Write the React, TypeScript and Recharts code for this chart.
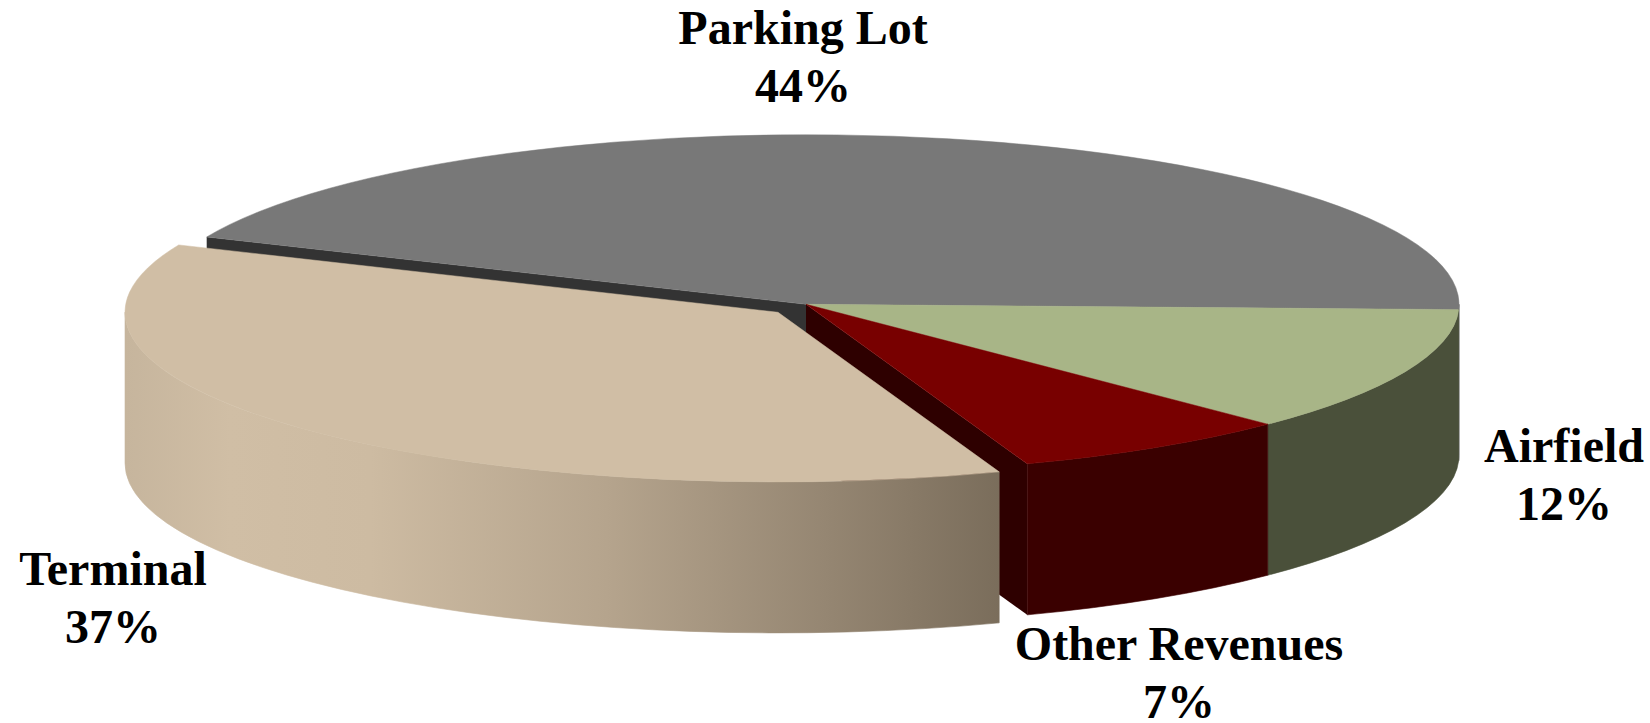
import { PieChart, Pie, Cell } from 'recharts'

const CATEGORIES = ['Parking Lot', 'Airfield', 'Other Revenues', 'Terminal']
const VALUES = [44, 12, 7, 37]

const TOP_COLORS: Record<string, string> = {
  'Parking Lot': '#787878',
  Airfield: '#a8b587',
  'Other Revenues': '#780000',
  Terminal: '#d0bea5',
}
const WALL_COLORS: Record<string, string> = {
  'Parking Lot': '#3a3a3a',
  Airfield: '#4a503a',
  'Other Revenues': '#3a0000',
  Terminal: 'url(#terminalWall)',
}
const CUT_COLORS: Record<string, string> = {
  'Parking Lot': '#333333',
  'Other Revenues': '#2e0000',
}

// label centre x and first baseline y
const LABEL_POS: Record<string, [number, number]> = {
  'Parking Lot': [803, 44],
  Airfield: [1564, 462],
  'Other Revenues': [1179, 660],
  Terminal: [113, 585],
}

const WIDTH = 1650
const HEIGHT = 723
const CX = 806
const CY = 304.3
const RX = 653
const SQUASH = 169.6 / 653
const DEPTH = 151
const EXPLODE: Record<string, [number, number]> = { Terminal: [-28, 8] }

const data = CATEGORIES.map((name, i) => ({ name, value: VALUES[i] }))

function Wedge3D(props: any) {
  const { cx, cy, outerRadius, startAngle, endAngle, name } = props
  const [dx, dy] = EXPLODE[name] ?? [0, 0]
  const rx = outerRadius
  const ry = outerRadius * SQUASH
  const ox = cx + dx
  const oy = cy + dy
  const pt = (deg: number, down = 0) => {
    const a = (deg * Math.PI) / 180
    return `${ox + rx * Math.cos(a)} ${oy - ry * Math.sin(a) + down}`
  }
  const large = startAngle - endAngle > 180 ? 1 : 0
  const top = `M ${ox} ${oy} L ${pt(startAngle)} A ${rx} ${ry} 0 ${large} 1 ${pt(endAngle)} Z`

  // only the front half of the rim shows
  const a1 = Math.min(startAngle, 0)
  const a2 = Math.max(endAngle, -180)
  const wall =
    a1 > a2
      ? `M ${pt(a1)} A ${rx} ${ry} 0 0 1 ${pt(a2)} L ${pt(a2, DEPTH)} A ${rx} ${ry} 0 0 0 ${pt(a1, DEPTH)} Z`
      : null

  // the cut face left open by the pulled out slice
  const cutAngle = name === 'Parking Lot' ? startAngle : endAngle
  const cut = CUT_COLORS[name]
    ? `M ${ox} ${oy} L ${pt(cutAngle)} L ${pt(cutAngle, DEPTH)} L ${ox} ${oy + DEPTH} Z`
    : null

  return (
    <g>
      <defs>
        <linearGradient id="terminalWall" gradientUnits="userSpaceOnUse" x1={125} y1={0} x2={1001} y2={0}>
          <stop offset="0" stopColor="#c6b59d" />
          <stop offset="0.12" stopColor="#d0bea5" />
          <stop offset="0.28" stopColor="#cdbba2" />
          <stop offset="0.55" stopColor="#b5a48d" />
          <stop offset="0.8" stopColor="#958672" />
          <stop offset="1" stopColor="#7a6d5b" />
        </linearGradient>
      </defs>
      {cut && <path d={cut} fill={CUT_COLORS[name]} />}
      {wall && <path d={wall} fill={WALL_COLORS[name]} stroke={WALL_COLORS[name]} strokeWidth={0.6} />}
      <path d={top} fill={TOP_COLORS[name]} stroke={TOP_COLORS[name]} strokeWidth={0.5} />
    </g>
  )
}

function renderLabel(props: any) {
  const { name, value } = props
  const [x, y] = LABEL_POS[name]
  return (
    <text
      x={x}
      y={y}
      textAnchor="middle"
      fontFamily="'Liberation Serif', serif"
      fontWeight="bold"
      fontSize={48}
      fill="#000"
    >
      <tspan x={x}>{name}</tspan>
      <tspan x={x} dy={58}>{`${value}%`}</tspan>
    </text>
  )
}

export default function App() {
  return (
    <div style={{ position: 'absolute', left: 0, top: 0, width: WIDTH, height: HEIGHT, background: '#fff' }}>
      <PieChart width={WIDTH} height={HEIGHT} margin={{ top: 0, right: 0, bottom: 0, left: 0 }}>
        <Pie
          data={data}
          dataKey="value"
          nameKey="name"
          cx={CX}
          cy={CY}
          innerRadius={0}
          outerRadius={RX}
          startAngle={156.6}
          endAngle={-203.4}
          paddingAngle={0}
          shape={Wedge3D}
          label={renderLabel}
          labelLine={false}
          isAnimationActive={false}
        >
          {data.map((d) => <Cell key={d.name} fill={TOP_COLORS[d.name]} />)}
        </Pie>
      </PieChart>
    </div>
  )
}
